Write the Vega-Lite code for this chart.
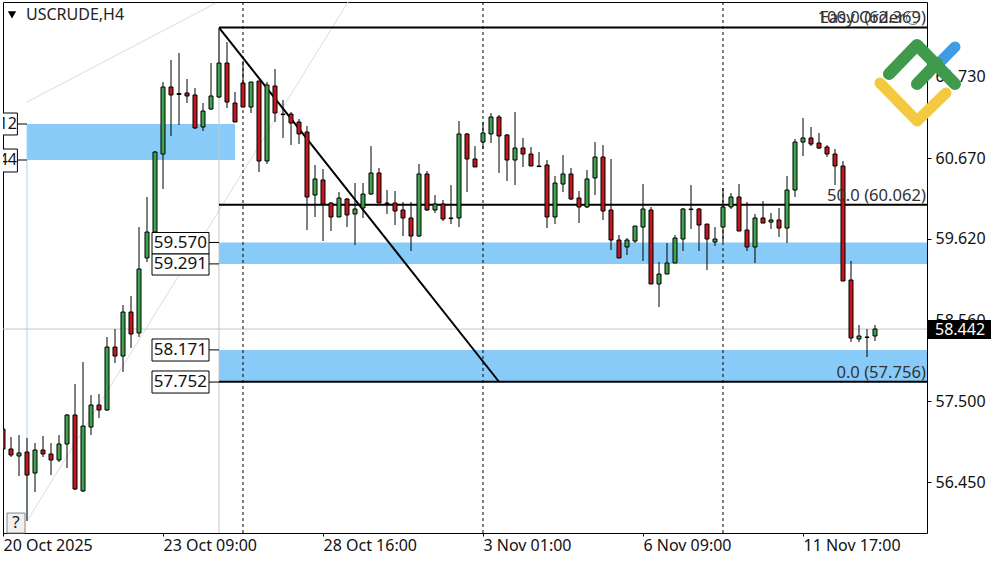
{
  "$schema": "https://vega.github.io/schema/vega-lite/v6.json",
  "description": "USCRUDE H4 candles with Fibonacci levels and supply/demand zones",
  "width": 924,
  "height": 531,
  "autosize": {"type": "none"},
  "padding": {"left": 3, "top": 2, "right": 73, "bottom": 29},
  "background": "white",
  "view": {"stroke": "black", "strokeWidth": 1, "fill": "white"},
  "config": {"text": {"font": "Noto Sans", "fontSize": 16}},
  "datasets": {
    "candles": [
      {"i":0,"o":57.140,"h":57.414,"l":56.737,"c":56.880},
      {"i":1,"o":56.880,"h":57.036,"l":56.776,"c":56.802},
      {"i":2,"o":56.789,"h":57.062,"l":56.528,"c":56.828},
      {"i":3,"o":56.841,"h":57.023,"l":55.942,"c":56.541},
      {"i":4,"o":56.567,"h":56.958,"l":56.320,"c":56.867},
      {"i":5,"o":56.867,"h":57.049,"l":56.776,"c":56.815},
      {"i":6,"o":56.815,"h":56.958,"l":56.541,"c":56.737},
      {"i":7,"o":56.737,"h":57.062,"l":56.711,"c":56.945},
      {"i":8,"o":56.945,"h":57.336,"l":56.632,"c":57.323},
      {"i":9,"o":57.323,"h":57.726,"l":56.346,"c":56.359},
      {"i":10,"o":56.333,"h":58.013,"l":56.320,"c":57.179},
      {"i":11,"o":57.166,"h":57.583,"l":57.062,"c":57.453},
      {"i":12,"o":57.453,"h":57.596,"l":57.284,"c":57.388},
      {"i":13,"o":57.388,"h":58.339,"l":57.375,"c":58.208},
      {"i":14,"o":58.208,"h":58.443,"l":58.000,"c":58.091},
      {"i":15,"o":58.091,"h":58.755,"l":57.883,"c":58.664},
      {"i":16,"o":58.664,"h":58.873,"l":58.195,"c":58.378},
      {"i":17,"o":58.391,"h":59.771,"l":58.339,"c":59.224},
      {"i":18,"o":59.368,"h":60.162,"l":59.316,"c":59.706},
      {"i":19,"o":59.706,"h":60.761,"l":59.602,"c":60.748},
      {"i":20,"o":60.722,"h":61.660,"l":60.266,"c":61.595},
      {"i":21,"o":61.595,"h":61.947,"l":60.957,"c":61.491},
      {"i":22,"o":61.510,"h":62.038,"l":61.100,"c":61.498},
      {"i":23,"o":61.517,"h":61.699,"l":61.386,"c":61.478},
      {"i":24,"o":61.491,"h":61.582,"l":61.048,"c":61.061},
      {"i":25,"o":61.074,"h":61.386,"l":61.022,"c":61.282},
      {"i":26,"o":61.308,"h":61.907,"l":61.295,"c":61.478},
      {"i":27,"o":61.465,"h":62.350,"l":61.452,"c":61.907},
      {"i":28,"o":61.907,"h":62.181,"l":61.321,"c":61.399},
      {"i":29,"o":61.386,"h":61.530,"l":61.139,"c":61.139},
      {"i":30,"o":61.647,"h":61.933,"l":61.334,"c":61.334},
      {"i":31,"o":61.334,"h":61.660,"l":61.256,"c":61.660},
      {"i":32,"o":61.673,"h":61.673,"l":60.488,"c":60.631},
      {"i":33,"o":60.631,"h":61.660,"l":60.592,"c":61.621},
      {"i":34,"o":61.608,"h":61.829,"l":61.139,"c":61.256},
      {"i":35,"o":61.243,"h":61.426,"l":60.931,"c":61.235},
      {"i":36,"o":61.243,"h":61.269,"l":60.839,"c":61.126},
      {"i":37,"o":61.139,"h":61.178,"l":60.852,"c":60.983},
      {"i":38,"o":61.009,"h":61.087,"l":59.732,"c":60.162},
      {"i":39,"o":60.188,"h":60.579,"l":59.902,"c":60.397},
      {"i":40,"o":60.384,"h":60.527,"l":59.589,"c":60.071},
      {"i":41,"o":60.084,"h":60.097,"l":59.719,"c":59.902},
      {"i":42,"o":59.902,"h":60.227,"l":59.902,"c":60.149},
      {"i":43,"o":60.136,"h":60.149,"l":59.771,"c":59.928},
      {"i":44,"o":59.941,"h":60.344,"l":59.537,"c":60.006},
      {"i":45,"o":60.019,"h":60.344,"l":59.889,"c":60.201},
      {"i":46,"o":60.201,"h":60.826,"l":60.188,"c":60.475},
      {"i":47,"o":60.475,"h":60.540,"l":60.084,"c":60.084},
      {"i":48,"o":60.084,"h":60.253,"l":59.941,"c":60.076},
      {"i":49,"o":60.084,"h":60.240,"l":59.797,"c":59.980},
      {"i":50,"o":59.993,"h":60.097,"l":59.654,"c":59.889},
      {"i":51,"o":59.889,"h":60.097,"l":59.459,"c":59.654},
      {"i":52,"o":59.654,"h":60.592,"l":59.641,"c":60.462},
      {"i":53,"o":60.462,"h":60.501,"l":59.980,"c":59.993},
      {"i":54,"o":59.993,"h":60.188,"l":59.954,"c":60.071},
      {"i":55,"o":60.071,"h":60.123,"l":59.850,"c":59.876},
      {"i":56,"o":59.889,"h":60.318,"l":59.810,"c":59.881},
      {"i":57,"o":59.889,"h":61.152,"l":59.771,"c":60.983},
      {"i":58,"o":60.983,"h":60.996,"l":60.227,"c":60.657},
      {"i":59,"o":60.657,"h":60.826,"l":60.553,"c":60.553},
      {"i":60,"o":60.878,"h":61.139,"l":60.787,"c":60.996},
      {"i":61,"o":60.983,"h":61.256,"l":60.865,"c":61.204},
      {"i":62,"o":61.204,"h":61.230,"l":60.475,"c":60.957},
      {"i":63,"o":60.970,"h":60.983,"l":60.370,"c":60.644},
      {"i":64,"o":60.644,"h":61.269,"l":60.318,"c":60.800},
      {"i":65,"o":60.800,"h":60.931,"l":60.553,"c":60.722},
      {"i":66,"o":60.722,"h":60.813,"l":60.566,"c":60.566},
      {"i":67,"o":60.566,"h":60.748,"l":60.553,"c":60.558},
      {"i":68,"o":60.579,"h":60.644,"l":59.758,"c":59.902},
      {"i":69,"o":59.902,"h":60.436,"l":59.810,"c":60.344},
      {"i":70,"o":60.331,"h":60.709,"l":60.227,"c":60.462},
      {"i":71,"o":60.462,"h":60.540,"l":60.123,"c":60.136},
      {"i":72,"o":60.149,"h":60.240,"l":59.823,"c":60.032},
      {"i":73,"o":60.032,"h":60.514,"l":60.019,"c":60.397},
      {"i":74,"o":60.410,"h":60.878,"l":60.188,"c":60.683},
      {"i":75,"o":60.683,"h":60.839,"l":59.863,"c":59.980},
      {"i":76,"o":59.993,"h":60.657,"l":59.472,"c":59.602},
      {"i":77,"o":59.602,"h":59.667,"l":59.368,"c":59.368},
      {"i":78,"o":59.511,"h":59.628,"l":59.407,"c":59.602},
      {"i":79,"o":59.589,"h":59.784,"l":59.563,"c":59.784},
      {"i":80,"o":59.771,"h":60.331,"l":59.329,"c":60.006},
      {"i":81,"o":59.993,"h":60.032,"l":59.029,"c":59.029},
      {"i":82,"o":59.029,"h":59.316,"l":58.729,"c":59.159},
      {"i":83,"o":59.159,"h":59.563,"l":59.159,"c":59.303},
      {"i":84,"o":59.303,"h":59.667,"l":59.303,"c":59.628},
      {"i":85,"o":59.615,"h":60.019,"l":59.459,"c":60.006},
      {"i":86,"o":60.006,"h":60.318,"l":59.745,"c":59.998},
      {"i":87,"o":60.006,"h":60.019,"l":59.459,"c":59.797},
      {"i":88,"o":59.810,"h":59.810,"l":59.211,"c":59.615},
      {"i":89,"o":59.576,"h":59.771,"l":59.524,"c":59.615},
      {"i":90,"o":59.771,"h":60.279,"l":59.576,"c":60.032},
      {"i":91,"o":60.032,"h":60.214,"l":60.006,"c":60.162},
      {"i":92,"o":60.162,"h":60.331,"l":59.719,"c":59.719},
      {"i":93,"o":59.732,"h":60.097,"l":59.459,"c":59.511},
      {"i":94,"o":59.511,"h":59.941,"l":59.303,"c":59.889},
      {"i":95,"o":59.889,"h":60.110,"l":59.823,"c":59.823},
      {"i":96,"o":59.836,"h":59.954,"l":59.745,"c":59.863},
      {"i":97,"o":59.863,"h":60.019,"l":59.641,"c":59.758},
      {"i":98,"o":59.758,"h":60.436,"l":59.563,"c":60.253},
      {"i":99,"o":60.253,"h":60.918,"l":60.162,"c":60.878},
      {"i":100,"o":60.878,"h":61.191,"l":60.696,"c":60.931},
      {"i":101,"o":60.931,"h":61.074,"l":60.826,"c":60.852},
      {"i":102,"o":60.865,"h":60.996,"l":60.787,"c":60.800},
      {"i":103,"o":60.813,"h":60.839,"l":60.683,"c":60.722},
      {"i":104,"o":60.722,"h":60.787,"l":60.318,"c":60.566},
      {"i":105,"o":60.566,"h":60.631,"l":59.068,"c":59.068},
      {"i":106,"o":59.081,"h":59.329,"l":58.274,"c":58.326},
      {"i":107,"o":58.313,"h":58.495,"l":58.274,"c":58.352},
      {"i":108,"o":58.339,"h":58.443,"l":58.078,"c":58.333},
      {"i":109,"o":58.352,"h":58.495,"l":58.287,"c":58.443}
    ]
  },
  "encoding": {
    "x": {
      "field": "i",
      "type": "quantitative",
      "scale": {"domain": [0, 115.5], "nice": false, "zero": false, "padding": 0},
      "axis": {
        "title": null,
        "grid": false,
        "domain": false,
        "values": [0, 20, 40, 60, 80, 100],
        "labelExpr": "['20 Oct 2025','23 Oct 09:00','28 Oct 16:00','3 Nov 01:00','6 Nov 09:00','11 Nov 17:00'][datum.value/20]",
        "labelAlign": "left",
        "labelFlush": false,
        "labelOverlap": false,
        "labelFont": "Noto Sans",
        "labelFontSize": 16,
        "labelColor": "#111111",
        "labelPadding": 1,
        "tickColor": "black",
        "tickSize": 3
      }
    },
    "y": {
      "field": "p",
      "type": "quantitative",
      "scale": {"domain": [55.786, 62.702], "nice": false, "zero": false},
      "axis": {
        "orient": "right",
        "title": null,
        "grid": false,
        "domain": false,
        "values": [56.45, 57.5, 58.56, 59.62, 60.67, 61.73],
        "format": ".3f",
        "labelFont": "Noto Sans",
        "labelFontSize": 16,
        "labelColor": "#111111",
        "labelPadding": 4,
        "labelOverlap": false,
        "tickColor": "black",
        "tickSize": 4
      }
    }
  },
  "layer": [
    {
      "data": {"values": [
        {"i": 3, "i2": 29, "p": 61.113, "p2": 60.644},
        {"i": 27, "i2": 115.5, "p": 59.57, "p2": 59.291},
        {"i": 27, "i2": 115.5, "p": 58.171, "p2": 57.752}
      ]},
      "mark": {"type": "rect", "color": "#88cbf9"},
      "encoding": {"x2": {"field": "i2"}, "y2": {"field": "p2"}}
    },
    {
      "data": {"values": [
        {"i": 3, "i2": 26.625, "p": 61.399, "p2": 62.689},
        {"i": 3, "i2": 43.125, "p": 55.942, "p2": 62.702}
      ]},
      "mark": {"type": "rule", "color": "#dcdcdc", "strokeWidth": 1},
      "encoding": {"x2": {"field": "i2"}, "y2": {"field": "p2"}}
    },
    {
      "data": {"values": [
        {"i": 0, "i2": 115.5, "p": 58.442, "p2": 58.442},
        {"i": 27, "i2": 27, "p": 62.369, "p2": 55.786}
      ]},
      "mark": {"type": "rule", "color": "#c4c4c4", "strokeWidth": 1},
      "encoding": {"x2": {"field": "i2"}, "y2": {"field": "p2"}}
    },
    {
      "data": {"values": [{"i": 3, "i2": 3, "p": 61.113, "p2": 55.942}]},
      "mark": {"type": "rule", "color": "#a9d6f2", "strokeWidth": 1},
      "encoding": {"x2": {"field": "i2"}, "y2": {"field": "p2"}}
    },
    {
      "data": {"values": [{"i": 30, "n": "a"}, {"i": 60, "n": "b"}, {"i": 90, "n": "c"}]},
      "mark": {"type": "rule", "color": "black", "strokeWidth": 1, "strokeDash": [3, 3]},
      "encoding": {"y": {"value": 0}, "y2": {"value": 531}}
    },
    {
      "data": {"values": [
        {"i": 27, "i2": 115.5, "p": 62.369, "p2": 62.369},
        {"i": 27, "i2": 115.5, "p": 60.062, "p2": 60.062},
        {"i": 27, "i2": 115.5, "p": 57.756, "p2": 57.756},
        {"i": 27, "i2": 62, "p": 62.369, "p2": 57.756}
      ]},
      "mark": {"type": "rule", "color": "black", "strokeWidth": 2},
      "encoding": {"x2": {"field": "i2"}, "y2": {"field": "p2"}}
    },
    {
      "data": {"values": [
        {"i": 1.8, "i2": 3, "p": 61.113, "p2": 61.113},
        {"i": 1.8, "i2": 3, "p": 60.644, "p2": 60.644},
        {"i": 25.75, "i2": 27, "p": 59.57, "p2": 59.57},
        {"i": 25.75, "i2": 27, "p": 59.291, "p2": 59.291},
        {"i": 25.75, "i2": 27, "p": 58.171, "p2": 58.171},
        {"i": 25.75, "i2": 27, "p": 57.752, "p2": 57.752}
      ]},
      "mark": {"type": "rule", "color": "black", "strokeWidth": 1},
      "encoding": {"x2": {"field": "i2"}, "y2": {"field": "p2"}}
    },
    {
      "data": {"name": "candles"},
      "mark": {"type": "rule", "color": "black", "strokeWidth": 1, "clip": true},
      "encoding": {
        "y": {
          "field": "l",
          "type": "quantitative",
          "scale": {"domain": [55.786, 62.702], "nice": false, "zero": false},
          "axis": {
            "orient": "right",
            "title": null,
            "grid": false,
            "domain": false,
            "values": [56.45, 57.5, 58.56, 59.62, 60.67, 61.73],
            "format": ".3f",
            "labelFont": "Noto Sans",
            "labelFontSize": 16,
            "labelColor": "#111111",
            "labelPadding": 4,
            "labelOverlap": false,
            "tickColor": "black",
            "tickSize": 4
          }
        },
        "y2": {"field": "h"}
      }
    },
    {
      "data": {"name": "candles"},
      "mark": {"type": "bar", "size": 4, "stroke": "black", "strokeWidth": 1, "clip": true},
      "encoding": {
        "y": {
          "field": "o",
          "type": "quantitative",
          "scale": {"domain": [55.786, 62.702], "nice": false, "zero": false},
          "axis": {
            "orient": "right",
            "title": null,
            "grid": false,
            "domain": false,
            "values": [56.45, 57.5, 58.56, 59.62, 60.67, 61.73],
            "format": ".3f",
            "labelFont": "Noto Sans",
            "labelFontSize": 16,
            "labelColor": "#111111",
            "labelPadding": 4,
            "labelOverlap": false,
            "tickColor": "black",
            "tickSize": 4
          }
        },
        "y2": {"field": "c"},
        "color": {"condition": {"test": "datum.c > datum.o", "value": "#3fa34d"}, "value": "#c0181e"}
      }
    },
    {
      "data": {"values": [
        {"i": -2, "i2": 1.8, "p": 61.256, "p2": 60.97},
        {"i": -2, "i2": 1.8, "p": 60.787, "p2": 60.488},
        {"i": 18.625, "i2": 25.75, "p": 59.7, "p2": 59.42},
        {"i": 18.625, "i2": 25.75, "p": 59.42, "p2": 59.146},
        {"i": 18.625, "i2": 25.75, "p": 58.313, "p2": 58.026},
        {"i": 18.625, "i2": 25.75, "p": 57.896, "p2": 57.609}
      ]},
      "mark": {"type": "rect", "fill": "white", "stroke": "black", "strokeWidth": 1, "clip": true},
      "encoding": {"x2": {"field": "i2"}, "y2": {"field": "p2"}}
    },
    {
      "data": {"values": [
        {"i": 1.75, "p": 61.113, "t": "61.112"},
        {"i": 1.75, "p": 60.644, "t": "60.644"}
      ]},
      "mark": {"type": "text", "align": "right", "baseline": "middle", "color": "#111111", "fontSize": 16, "clip": true},
      "encoding": {"text": {"field": "t"}}
    },
    {
      "data": {"values": [
        {"i": 25.5, "p": 59.56, "t": "59.570"},
        {"i": 25.5, "p": 59.285, "t": "59.291"},
        {"i": 25.5, "p": 58.17, "t": "58.171"},
        {"i": 25.5, "p": 57.752, "t": "57.752"}
      ]},
      "mark": {"type": "text", "align": "right", "baseline": "middle", "color": "#111111", "fontSize": 17},
      "encoding": {"text": {"field": "t"}}
    },
    {
      "data": {"values": [
        {"i": 115.375, "p": 62.494, "t": "100.0 (62.369)"},
        {"i": 112.75, "p": 62.494, "t": "Easy Order"},
        {"i": 115.375, "p": 60.175, "t": "50.0 (60.062)"},
        {"i": 115.375, "p": 57.87, "t": "0.0 (57.756)"}
      ]},
      "mark": {"type": "text", "align": "right", "baseline": "middle", "color": "#333333", "fontSize": 16.6},
      "encoding": {"text": {"field": "t"}}
    },
    {
      "data": {"values": [{"i": 113.75, "p": 62.494}]},
      "mark": {"type": "point", "shape": "circle", "size": 170, "filled": false, "color": "#333333", "strokeWidth": 1}
    },
    {
      "data": {"values": [{"i": 2.875, "p": 62.533, "t": "USCRUDE,H4"}]},
      "mark": {"type": "text", "align": "left", "baseline": "middle", "color": "#222222"},
      "encoding": {"text": {"field": "t"}}
    },
    {
      "data": {"values": [{"i": 1.125, "p": 62.533}]},
      "mark": {"type": "point", "shape": "triangle-down", "size": 70, "filled": true, "color": "black", "opacity": 1}
    },
    {
      "data": {"values": [{"i": 0.5, "i2": 2.75, "p": 56.046, "p2": 55.786}]},
      "mark": {"type": "rect", "fill": "#f0f0f0", "stroke": "#888888", "strokeWidth": 1},
      "encoding": {"x2": {"field": "i2"}, "y2": {"field": "p2"}}
    },
    {
      "data": {"values": [{"i": 1.625, "p": 55.916, "t": "?"}]},
      "mark": {"type": "text", "align": "center", "baseline": "middle", "color": "#222222", "fontSize": 17},
      "encoding": {"text": {"field": "t"}}
    },
    {
      "data": {"values": [{"i": 115.625, "i2": 123.5, "p": 58.56, "p2": 58.313}]},
      "mark": {"type": "rect", "color": "black", "clip": false},
      "encoding": {"x2": {"field": "i2"}, "y2": {"field": "p2"}}
    },
    {
      "data": {"values": [{"i": 116.5, "p": 58.43, "t": "58.442"}]},
      "mark": {"type": "text", "align": "left", "baseline": "middle", "color": "white"},
      "encoding": {"text": {"field": "t"}}
    },
    {
      "data": {"values": [
        {"part": "blue", "n": 0, "i": 119, "p": 62.116},
        {"part": "blue", "n": 1, "i": 117.125, "p": 61.92}
      ]},
      "mark": {"type": "line", "color": "#3f9ce3", "strokeWidth": 11, "strokeCap": "round", "strokeJoin": "round"},
      "encoding": {"detail": {"field": "part"}, "order": {"field": "n"}}
    },
    {
      "data": {"values": [
        {"part": "yellow", "n": 0, "i": 109.625, "p": 61.647},
        {"part": "yellow", "n": 1, "i": 114.25, "p": 61.152},
        {"part": "yellow", "n": 2, "i": 117.875, "p": 61.517}
      ]},
      "mark": {"type": "line", "color": "#f3c93f", "strokeWidth": 11, "strokeCap": "round", "strokeJoin": "round"},
      "encoding": {"detail": {"field": "part"}, "order": {"field": "n"}}
    },
    {
      "data": {"values": [
        {"part": "roof", "n": 0, "i": 110.75, "p": 61.764},
        {"part": "roof", "n": 1, "i": 114.25, "p": 62.142},
        {"part": "roof", "n": 2, "i": 119, "p": 61.634},
        {"part": "stem", "n": 0, "i": 114.25, "p": 61.634},
        {"part": "stem", "n": 1, "i": 116.75, "p": 61.907}
      ]},
      "mark": {"type": "line", "color": "#3f9a4b", "strokeWidth": 12, "strokeCap": "round", "strokeJoin": "round"},
      "encoding": {"detail": {"field": "part"}, "order": {"field": "n"}}
    }
  ]
}
